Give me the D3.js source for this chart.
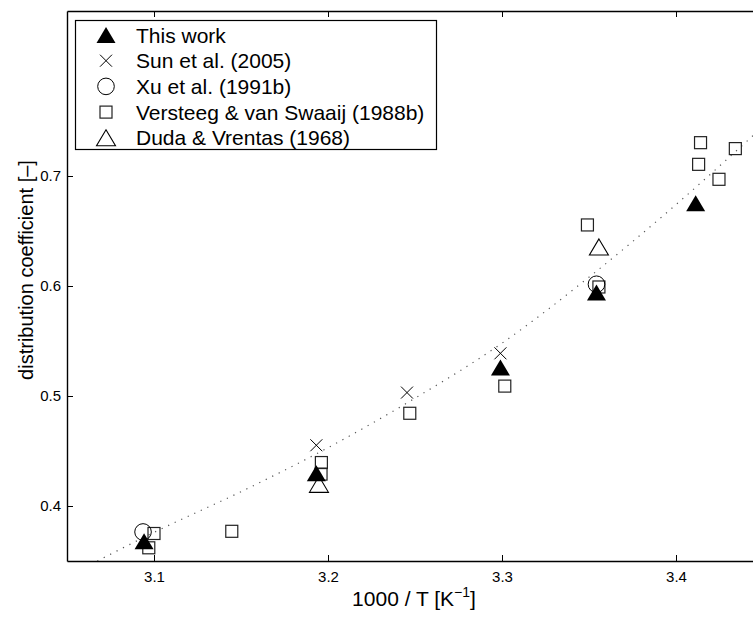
<!DOCTYPE html>
<html>
<head>
<meta charset="utf-8">
<script src="https://cdn.jsdelivr.net/npm/d3@7"></script>
<style>
  body { margin: 0; background: #fff; }
  svg { display: block; font-family: "Liberation Sans", Arial, sans-serif; }
</style>
</head>
<body>
<script>
// ---------- data ----------
let thisWork = [[3.0943, 0.368], [3.1933, 0.4297], [3.2991, 0.5258], [3.3543, 0.594], [3.4113, 0.6752]];
let sun2005 = [[3.1933, 0.4552], [3.2454, 0.5031], [3.2991, 0.5388]];
let xu1991 = [[3.0937, 0.3764], [3.3543, 0.6016]];
let versteeg1988 = [[3.100, 0.375], [3.097, 0.362], [3.1447, 0.377], [3.1962, 0.4395], [3.196, 0.429],
  [3.247, 0.4843], [3.3016, 0.509], [3.3491, 0.6555], [3.3557, 0.5991], [3.4130, 0.7106],
  [3.4141, 0.7303], [3.4247, 0.697], [3.4341, 0.7249]];
let duda1968 = [[3.1948, 0.4197], [3.3557, 0.6355]];
let fitCurve = [[3.06, 0.344], [3.1, 0.376], [3.15, 0.413], [3.2, 0.453], [3.25, 0.498],
  [3.3, 0.548], [3.35, 0.608], [3.4, 0.674], [3.45, 0.745]];
let xTicks = [3.1, 3.2, 3.3, 3.4];
let yTicks = [0.4, 0.5, 0.6, 0.7];
let legendLabels = ['This work', 'Sun et al. (2005)', 'Xu et al. (1991b)', 'Versteeg & van Swaaij (1988b)', 'Duda & Vrentas (1968)'];

let width = 753, height = 617;
let margin = { left: 67, top: 11, right: -10, bottom: 56 };

let svg = d3.select('body').append('svg')
  .attr('width', width).attr('height', height);

let x = d3.scaleLinear().domain([3.05, 3.45]).range([margin.left, width - margin.right]);
let y = d3.scaleLinear().domain([0.35, 0.85]).range([height - margin.bottom, margin.top]);

// ---------- clip ----------
svg.append('clipPath').attr('id', 'plotClip')
  .append('rect')
  .attr('x', x(3.05)).attr('y', y(0.85))
  .attr('width', x(3.45) - x(3.05)).attr('height', y(0.35) - y(0.85));

// ---------- axes ----------
let tickLen = 6;
svg.append('g').attr('transform', `translate(0,${y(0.35)})`)
  .call(d3.axisBottom(x).tickValues(xTicks).tickFormat(d3.format('.1f')).tickSizeInner(-tickLen).tickSizeOuter(0).tickPadding(10));
svg.append('g').attr('transform', `translate(0,${y(0.85)})`)
  .call(d3.axisTop(x).tickValues(xTicks).tickFormat('').tickSizeInner(-tickLen).tickSizeOuter(0));
svg.append('g').attr('transform', `translate(${x(3.05)},0)`)
  .call(d3.axisLeft(y).tickValues(yTicks).tickFormat(d3.format('.1f')).tickSizeInner(-tickLen).tickSizeOuter(0).tickPadding(6));

svg.selectAll('.domain').attr('stroke', '#000').attr('stroke-width', 1.4);
svg.selectAll('.tick line').attr('stroke', '#000');
svg.selectAll('.tick text').attr('font-size', 15).attr('fill', '#000')
  .attr('font-family', '"Liberation Sans", Arial, sans-serif');

// ---------- axis titles ----------
let xTitle = svg.append('text')
  .attr('x', 414).attr('y', 606)
  .attr('text-anchor', 'middle').attr('font-size', 21);
xTitle.append('tspan').text('1000 / T [K');
xTitle.append('tspan').attr('font-size', 14).attr('dy', -9).text('\u2212' + '1');
xTitle.append('tspan').attr('dy', 9).text(']');

svg.append('text')
  .attr('transform', 'translate(33,270) rotate(-90)')
  .attr('text-anchor', 'middle').attr('font-size', 20)
  .text('distribution coefficient [\u2013]');

// ---------- fit curve ----------
let plot = svg.append('g').attr('clip-path', 'url(#plotClip)');
plot.append('path')
  .datum(fitCurve)
  .attr('d', d3.line().x(d => x(d[0])).y(d => y(d[1])).curve(d3.curveMonotoneX))
  .attr('fill', 'none').attr('stroke', '#555').attr('stroke-width', 1.2)
  .attr('stroke-dasharray', '1.2,6');

// ---------- markers ----------
let tri = 'M0,-8L9.5,8L-9.5,8Z';
let markers = {
  filled: g => g.append('path').attr('d', tri).attr('fill', '#000'),
  cross: g => g.append('path').attr('d', 'M-6,-6L6,6M-6,6L6,-6').attr('stroke', '#000').attr('fill', 'none'),
  circle: g => g.append('circle').attr('r', 8.3).attr('fill', 'none').attr('stroke', '#000'),
  square: g => g.append('rect').attr('x', -6).attr('y', -6).attr('width', 12).attr('height', 12)
    .attr('fill', 'none').attr('stroke', '#222').attr('stroke-width', 1.2),
  open: g => g.append('path').attr('d', tri).attr('fill', 'none').attr('stroke', '#000').attr('stroke-width', 1.1)
};

let series = [
  { data: versteeg1988, mark: 'square' },
  { data: duda1968, mark: 'open' },
  { data: xu1991, mark: 'circle' },
  { data: sun2005, mark: 'cross' },
  { data: thisWork, mark: 'filled' }
];

series.forEach(function (s) {
  plot.append('g').selectAll('g')
    .data(s.data)
    .enter().append('g')
    .attr('transform', d => `translate(${x(d[0])},${y(d[1])})`)
    .each(function () { markers[s.mark](d3.select(this)); });
});

// ---------- legend ----------
let legendMarks = ['filled', 'cross', 'circle', 'square', 'open'];
let legend = svg.append('g');
legend.append('rect')
  .attr('x', 75.5).attr('y', 20.5).attr('width', 361).attr('height', 129)
  .attr('fill', '#fff').attr('stroke', '#000').attr('stroke-width', 1.2);

legendLabels.forEach(function (label, i) {
  let rowY = 35 + i * 25.7;
  let m = legend.append('g').attr('transform', `translate(106,${rowY})`);
  markers[legendMarks[i]](m);
  legend.append('text')
    .attr('x', 136).attr('y', rowY).attr('dy', '0.36em')
    .attr('font-size', 21)
    .text(label);
});
</script>
</body>
</html>
